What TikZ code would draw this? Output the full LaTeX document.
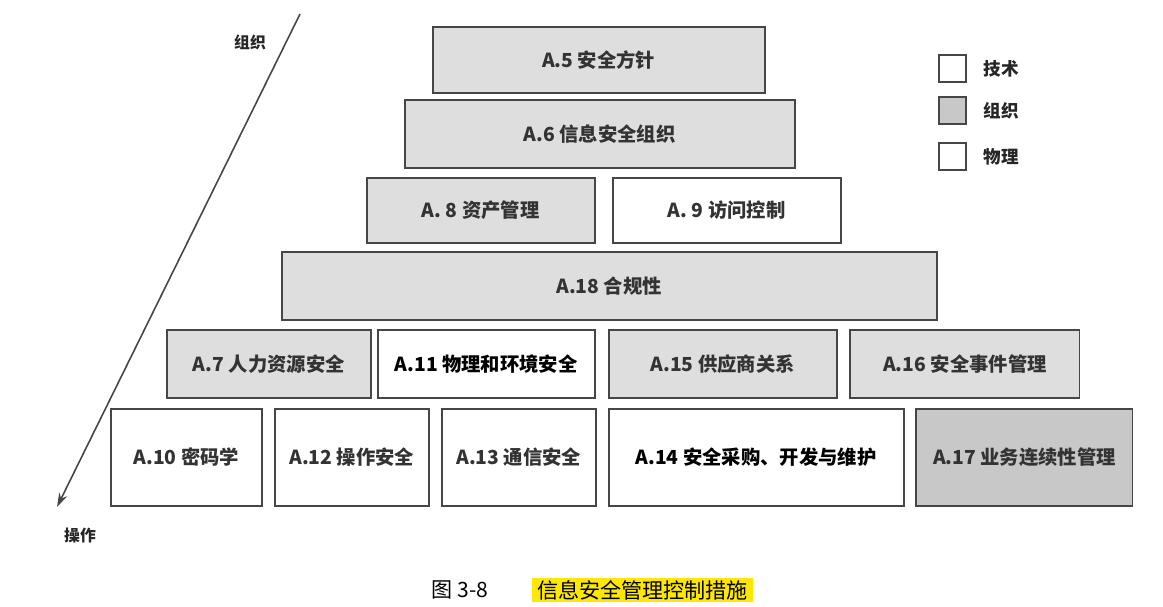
\documentclass[tikz,border=0pt]{standalone}
\usepackage{fontspec}
\newfontfamily\cjk{Noto Sans CJK SC}
\usetikzlibrary{arrows.meta}
\definecolor{boxg}{RGB}{222,222,222}
\definecolor{boxd}{RGB}{200,200,200}
\definecolor{edge}{RGB}{70,70,70}
\tikzset{
 blk/.style={draw=edge,line width=1.1pt,font=\cjk\bfseries\fontsize{11}{13}\selectfont,text=black!80,inner sep=0pt},
 gbox/.style={blk,fill=boxg},
 dbox/.style={blk,fill=boxd},
 wbox/.style={blk,fill=white},
 lg/.style={draw=edge,line width=1.1pt,minimum size=0.54cm,inner sep=0pt},
 lbl/.style={font=\cjk\bfseries\fontsize{10}{12}\selectfont,text=black!85}
}
\newcommand{\bx}[6]{\node[#1,minimum width={(#4-#3)*0.02cm},minimum height={(#6-#5)*0.02cm}] (#2) at ({(#3+#4)*0.01},{-(#5+#6)*0.01})}
\begin{document}
\begin{tikzpicture}
\useasboundingbox (0,0) rectangle (23.26,-12.12);
\bx{gbox}{a5}{433}{765}{27}{93} {A.5 安全方针};
\bx{gbox}{a6}{405}{795}{100}{168} {A.6 信息安全组织};
\bx{gbox}{a8}{367}{595}{178}{243} {A. 8 资产管理};
\bx{wbox}{a9}{613}{841}{178}{243} {A. 9 访问控制};
\bx{gbox}{a18}{282}{937}{252}{320} {A.18 合规性};
\bx{gbox}{a7}{167}{371}{330}{398} {A.7 人力资源安全};
\bx{wbox}{a11}{378}{595}{330}{398} {\color{black}A.11 物理和环境安全};
\bx{gbox}{a15}{609}{837}{330}{398} {A.15 供应商关系};
\bx{gbox}{a16}{851}{1080}{330}{398} {A.16 安全事件管理};
\bx{wbox}{a10}{111}{262}{409}{506} {A.10 密码学};
\bx{wbox}{a12}{275}{429}{409}{506} {A.12 操作安全};
\bx{wbox}{a13}{442}{596}{409}{506} {A.13 通信安全};
\bx{wbox}{a14}{609}{904}{409}{506} {\color{black}A.14 安全采购、开发与维护};
\bx{dbox}{a17}{917}{1133}{409}{506} {A.17 业务连续性管理};
\node[lg,fill=white] (l1) at (19.05,-1.37) {};
\node[lg,fill=boxd] (l2) at (19.05,-2.21) {};
\node[lg,fill=white] (l3) at (19.05,-3.13) {};
\node[lbl,anchor=west] (t1) at (19.55,-1.37) {技术};
\node[lbl,anchor=west] (t2) at (19.55,-2.21) {组织};
\node[lbl,anchor=west] (t3) at (19.55,-3.13) {物理};
\coordinate (s) at (6.0,-0.28);
\coordinate (e) at (1.14,-10.14);
\draw[edge,line width=0.9pt,-{Stealth[length=8pt,width=5pt]}] (s) -- (e);
\node[lbl,font=\cjk\bfseries\fontsize{9}{11}\selectfont] (org) at (5.0,-0.84) {组织};
\node[lbl,font=\cjk\bfseries\fontsize{9}{11}\selectfont] (op) at (1.6,-10.7) {操作};
\node[font=\cjk\fontsize{12}{14}\selectfont] (fig) at (9.2,-11.8) {图 3-8};
\node[font=\cjk\fontsize{12}{14}\selectfont,fill=yellow!90!orange,inner xsep=3pt,inner ysep=1pt] (cap) at (12.85,-11.8) {信息安全管理控制措施};
\end{tikzpicture}
\end{document}
